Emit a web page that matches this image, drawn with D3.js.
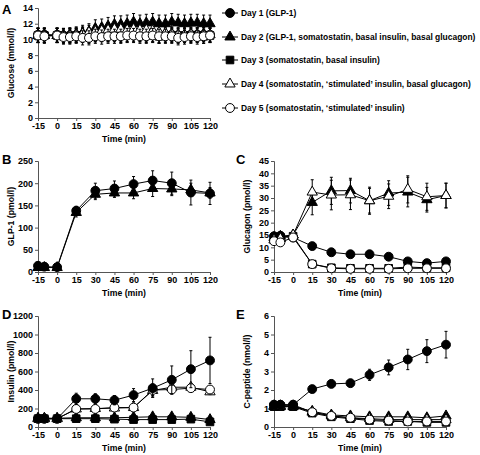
<!DOCTYPE html>
<html><head><meta charset="utf-8">
<script src="https://cdn.jsdelivr.net/npm/d3@7"></script>
<style>
body{margin:0;background:#fff}
svg{display:block}
text{font-family:"Liberation Sans",Arial,sans-serif;font-weight:bold;fill:#000}
</style>
</head><body>
<svg id="chart" width="480" height="455"></svg>
<script>
// ---------- data ----------
const dayLabels = [
  "Day 1 (GLP-1)",
  "Day 2 (GLP-1, somatostatin, basal insulin, basal glucagon)",
  "Day 3 (somatostatin, basal insulin)",
  "Day 4 (somatostatin, \u2018stimulated\u2019 insulin, basal glucagon)",
  "Day 5 (somatostatin, \u2018stimulated\u2019 insulin)"
];
const xTicks = [-15,0,15,30,45,60,75,90,105,120];

// Panel A: glucose (mmol/l)
const timeA = [-15,-10,0,5,10,15,20,25,30,35,40,45,50,55,60,65,70,75,80,85,90,95,100,105,110,115,120];
const glucoseDay1 = [10.6,10.6,10.6,10.5,10.5,10.5,10.6,10.5,10.6,10.7,10.6,10.7,10.6,10.6,10.7,10.6,10.6,10.6,10.5,10.6,10.6,10.5,10.5,10.6,10.6,10.6,10.6];
const glucoseDay2 = [10.5,10.5,10.5,10.5,10.6,10.7,10.8,11.0,11.4,11.5,11.7,11.9,11.9,12.0,12.2,12.0,12.1,12.2,12.0,12.0,12.2,12.1,12.0,12.1,12.1,12.0,12.0];
const glucoseDay3 = [10.5,10.5,10.5,10.4,10.4,10.5,10.5,10.4,10.6,10.6,10.6,10.6,10.5,10.6,10.6,10.6,10.5,10.6,10.4,10.5,10.5,10.4,10.5,10.5,10.5,10.4,10.5];
const glucoseDay4 = [10.5,10.5,10.5,10.5,10.5,10.6,10.7,10.9,11.0,11.1,11.2,11.3,11.3,11.2,11.3,11.2,11.2,11.1,10.9,10.8,10.7,10.6,10.6,10.7,10.6,10.6,10.6];
const glucoseDay5 = [10.5,10.4,10.5,10.3,10.3,10.4,10.2,10.2,10.4,10.3,10.4,10.4,10.4,10.5,10.5,10.4,10.4,10.5,10.4,10.4,10.4,10.2,10.3,10.4,10.3,10.4,10.5];
const glucoseErr1 = [0.9,0.9,0.9,0.9,0.9,0.9,0.9,0.9,0.9,0.9,0.9,0.9,0.9,0.9,0.9,0.9,0.9,0.9,0.9,0.9,0.9,0.9,0.9,0.9,0.9,0.9,0.9];
const glucoseErr2 = [0.9,0.9,0.9,0.9,0.9,0.9,1.0,1.0,1.1,1.1,1.1,1.1,1.1,1.1,1.1,1.1,1.1,1.1,1.1,1.1,1.1,1.1,1.1,1.1,1.1,1.1,1.1];

// Panels B-E time points
const timeB = [-15,-10,0,15,30,45,60,75,90,105,120];

// Panel B: GLP-1 (pmol/l)
const glp1Day1 = [14,12,11,138,183,188,198,206,200,179,177];
const glp1Err1 = [3,3,3,10,17,17,17,22,25,28,25];
const glp1Day2 = [10,10,10,134,175,178,178,188,187,185,178];
const glp1Err2 = [3,3,3,10,12,10,13,18,15,15,12];

// Panel C: glucagon (pmol/l)
const glucagonDay1 = [14.5,14.7,14,10.5,8,7.2,7.2,6.2,4.3,3.6,4.3];
const glucagonErr1 = [0.8,0.8,0.8,0.8,0.8,0.8,0.8,0.8,0.8,0.8,0.8];
const glucagonDay2 = [14,14.5,15,28.2,32.9,33,28.9,32,32.4,29.3,31];
const glucagonErr2 = [1,1,1,5,5.5,5,5.5,5,6,5,5];
const glucagonDay3 = [13.5,14,14.5,3.2,1.7,1.5,1.5,1.5,2,1.7,1.7];
const glucagonErr3 = [0.5,0.5,0.5,0.5,0.5,0.5,0.5,0.5,0.5,0.5,0.5];
const glucagonDay4 = [13,13.5,15,32.4,31.2,31.3,28.9,30.7,33.5,30.5,31];
const glucagonErr4 = [1,1,1,5,6,6,5,5,5.5,5.5,5];
const glucagonDay5 = [12.5,12,14,3.2,1.5,1.3,1.3,1.3,1.5,1.5,1.5];
const glucagonErr5 = [0.5,0.5,0.5,0.5,0.5,0.5,0.5,0.5,0.5,0.5,0.5];

// Panel D: insulin (pmol/l)
const insulinDay1 = [90,90,90,305,305,290,345,420,510,625,720];
const insulinErr1 = [15,15,15,60,55,50,70,100,150,200,250];
const insulinDay2 = [95,95,95,100,100,100,105,110,110,105,80];
const insulinErr2 = [20,20,20,20,20,20,20,20,20,20,20];
const insulinDay3 = [90,90,90,90,90,85,80,80,80,85,55];
const insulinErr3 = [15,15,15,15,15,15,15,15,15,15,15];
const insulinDay4 = [90,90,90,195,200,205,210,395,430,430,380];
const insulinErr4 = [10,10,10,25,30,30,30,70,50,40,30];
const insulinDay5 = [90,90,90,195,195,210,210,400,405,420,405];
const insulinErr5 = [10,10,10,25,30,30,30,60,50,40,40];

// Panel E: C-peptide (nmol/l)
const cpepDay1 = [1.2,1.2,1.2,2.05,2.33,2.37,2.82,3.22,3.65,4.1,4.45];
const cpepErr1 = [0.1,0.1,0.1,0.15,0.2,0.2,0.3,0.4,0.55,0.62,0.72];
const cpepDay2 = [1.1,1.1,1.1,0.85,0.65,0.6,0.55,0.55,0.55,0.5,0.6];
const cpepDay3 = [1.1,1.1,1.1,0.75,0.55,0.45,0.35,0.3,0.3,0.25,0.25];
const cpepDay4 = [1.15,1.15,1.15,0.8,0.6,0.5,0.45,0.4,0.4,0.4,0.4];
const cpepDay5 = [1.2,1.2,1.2,0.8,0.6,0.5,0.4,0.35,0.3,0.3,0.3];
const cpepErrSmall = [0.08,0.08,0.08,0.08,0.08,0.08,0.08,0.08,0.08,0.08,0.08];

// ---------- drawing ----------
const svg = d3.select("#chart");
const markerStyle = [
  {shape: d3.symbolCircle, size: 62, fill: "#000"},
  {shape: d3.symbolTriangle, size: 46, fill: "#000"},
  {shape: d3.symbolSquare, size: 58, fill: "#000"},
  {shape: d3.symbolTriangle, size: 46, fill: "#fff"},
  {shape: d3.symbolCircle, size: 62, fill: "#fff"}
];

function panel(cfg) {
  const x = d3.scaleLinear().domain([-15, 120]).range([cfg.x0, cfg.x1]);
  const y = d3.scaleLinear().domain(cfg.yDomain).range([cfg.yBot, cfg.yTop]);
  const g = svg.append("g");

  const xa = g.append("g").attr("transform", `translate(0,${cfg.yBot})`)
    .call(d3.axisBottom(x).tickValues(xTicks).tickSize(3).tickPadding(2).tickFormat(d => String(d)));
  const ya = g.append("g").attr("transform", `translate(${cfg.x0},0)`)
    .call(d3.axisLeft(y).tickValues(cfg.yTicks).tickSize(3).tickPadding(2).tickFormat(d => String(d)));
  [xa, ya].forEach(a => {
    a.selectAll("path,line").attr("stroke", "#555").attr("stroke-width", 1);
    a.selectAll("text").style("font-size", "9px").style("font-weight", "bold")
      .style("font-family", '"Liberation Sans",Arial,sans-serif').attr("fill", "#000");
  });

  g.append("text").attr("x", (cfg.x0 + cfg.x1) / 2).attr("y", cfg.yBot + 24)
    .attr("text-anchor", "middle").style("font-size", "8.7px").text("Time (min)");
  g.append("text").attr("transform", `translate(${cfg.ylabX},${(cfg.yTop + cfg.yBot) / 2}) rotate(-90)`)
    .attr("text-anchor", "middle").style("font-size", "8.7px").text(cfg.ylabel);
  g.append("text").attr("x", cfg.letterX).attr("y", cfg.letterY)
    .style("font-size", "13px").text(cfg.letter);

  const line = d3.line().x(d => x(d.t)).y(d => y(d.v));
  cfg.series.forEach(s => {
    const pts = cfg.time.map((t, i) => ({t, v: s.values[i], e: s.err ? s.err[i] : 0}));
    const st = markerStyle[s.day];
    const sg = g.append("g");
    sg.append("path").datum(pts).attr("d", line).attr("fill", "none").attr("stroke", "#000").attr("stroke-width", 1);
    const eb = sg.selectAll(".eb").data(pts.filter(p => p.e > 0)).join("g");
    eb.append("line").attr("x1", p => x(p.t)).attr("x2", p => x(p.t))
      .attr("y1", p => y(p.v - p.e)).attr("y2", p => y(p.v + p.e)).attr("stroke", "#000");
    eb.append("line").attr("x1", p => x(p.t) - 1.5).attr("x2", p => x(p.t) + 1.5)
      .attr("y1", p => y(p.v + p.e)).attr("y2", p => y(p.v + p.e)).attr("stroke", "#000");
    eb.append("line").attr("x1", p => x(p.t) - 1.5).attr("x2", p => x(p.t) + 1.5)
      .attr("y1", p => y(p.v - p.e)).attr("y2", p => y(p.v - p.e)).attr("stroke", "#000");
    sg.selectAll(".m").data(pts).join("path")
      .attr("d", d3.symbol().type(st.shape).size(st.size))
      .attr("transform", p => `translate(${x(p.t)},${y(p.v)})`)
      .attr("fill", st.fill).attr("stroke", "#000").attr("stroke-width", 1);
  });
}

panel({x0: 38, x1: 210, yTop: 8, yBot: 118, yDomain: [0, 14], yTicks: [0,2,4,6,8,10,12,14],
  time: timeA, ylabel: "Glucose (mmol/l)", ylabX: 14, letter: "A", letterX: 2, letterY: 14,
  series: [
    {day: 2, values: glucoseDay3, err: glucoseErr1},
    {day: 0, values: glucoseDay1, err: glucoseErr1},
    {day: 1, values: glucoseDay2, err: glucoseErr2},
    {day: 3, values: glucoseDay4, err: glucoseErr1},
    {day: 4, values: glucoseDay5, err: glucoseErr1}
  ]});

panel({x0: 38, x1: 210, yTop: 161, yBot: 272, yDomain: [0, 250], yTicks: [0,50,100,150,200,250],
  time: timeB, ylabel: "GLP-1 (pmol/l)", ylabX: 14, letter: "B", letterX: 2, letterY: 164,
  series: [
    {day: 1, values: glp1Day2, err: glp1Err2},
    {day: 0, values: glp1Day1, err: glp1Err1}
  ]});

panel({x0: 274, x1: 446, yTop: 161, yBot: 272, yDomain: [0, 45], yTicks: [0,5,10,15,20,25,30,35,40,45],
  time: timeB, ylabel: "Glucagon (pmol/l)", ylabX: 250, letter: "C", letterX: 236, letterY: 164,
  series: [
    {day: 0, values: glucagonDay1, err: glucagonErr1},
    {day: 2, values: glucagonDay3, err: glucagonErr3},
    {day: 1, values: glucagonDay2, err: glucagonErr2},
    {day: 3, values: glucagonDay4, err: glucagonErr4},
    {day: 4, values: glucagonDay5, err: glucagonErr5}
  ]});

panel({x0: 38, x1: 210, yTop: 316, yBot: 427, yDomain: [0, 1200], yTicks: [0,200,400,600,800,1000,1200],
  time: timeB, ylabel: "Insulin (pmol/l)", ylabX: 14, letter: "D", letterX: 2, letterY: 319,
  series: [
    {day: 2, values: insulinDay3, err: insulinErr3},
    {day: 1, values: insulinDay2, err: insulinErr2},
    {day: 3, values: insulinDay4, err: insulinErr4},
    {day: 4, values: insulinDay5, err: insulinErr5},
    {day: 0, values: insulinDay1, err: insulinErr1}
  ]});

panel({x0: 274, x1: 446, yTop: 316, yBot: 427, yDomain: [0, 6], yTicks: [0,1,2,3,4,5,6],
  time: timeB, ylabel: "C-peptide (nmol/l)", ylabX: 250, letter: "E", letterX: 236, letterY: 319,
  series: [
    {day: 1, values: cpepDay2, err: cpepErrSmall},
    {day: 3, values: cpepDay4, err: cpepErrSmall},
    {day: 2, values: cpepDay3, err: cpepErrSmall},
    {day: 4, values: cpepDay5, err: cpepErrSmall},
    {day: 0, values: cpepDay1, err: cpepErr1}
  ]});

// legend
const legendY = [13, 37, 60, 84, 108];
const lg = svg.append("g");
dayLabels.forEach((lab, i) => {
  const st = markerStyle[i];
  lg.append("line").attr("x1", 222).attr("x2", 238).attr("y1", legendY[i]).attr("y2", legendY[i]).attr("stroke", "#000");
  lg.append("path").attr("d", d3.symbol().type(st.shape).size(st.size))
    .attr("transform", `translate(230,${legendY[i]})`).attr("fill", st.fill).attr("stroke", "#000");
  lg.append("text").attr("x", 241).attr("y", legendY[i]).attr("dy", "0.35em")
    .style("font-size", "8.45px").text(lab);
});
</script>
</body></html>
